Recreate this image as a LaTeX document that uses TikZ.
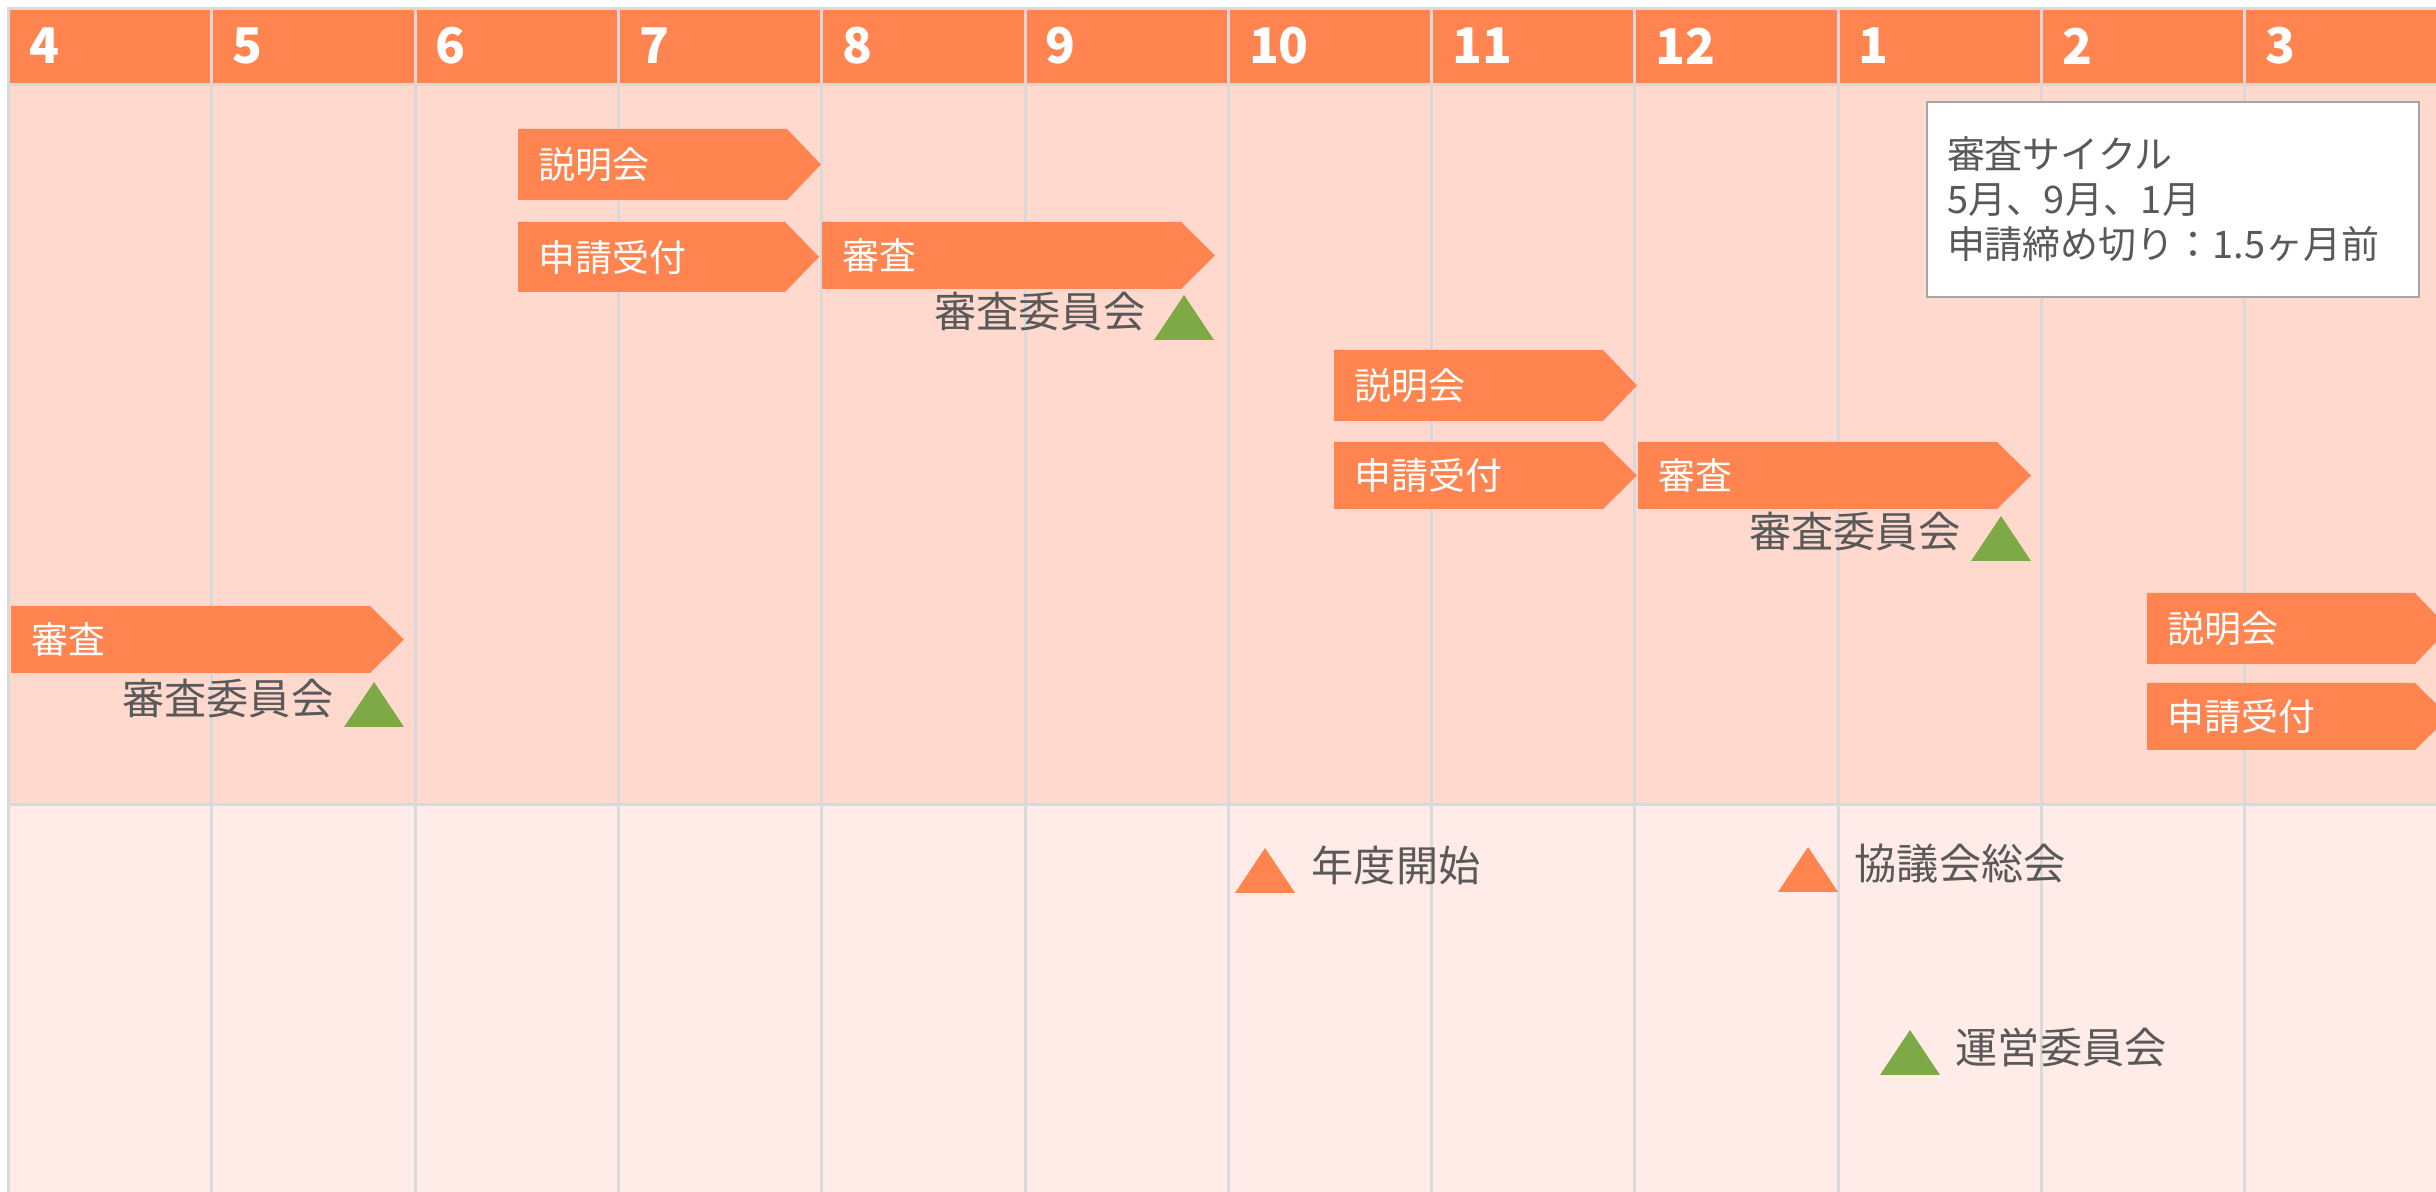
\documentclass[tikz,border=0pt]{standalone}
\usepackage{fontspec}
\setmainfont{Noto Sans CJK JP}
\definecolor{HeadClr}{HTML}{FF8450}
\definecolor{UpperClr}{HTML}{FFD8CE}
\definecolor{LowerClr}{HTML}{FFEBE7}
\definecolor{GridClr}{HTML}{D9D9D9}
\definecolor{MeetClr}{HTML}{7DA946}
\definecolor{TextClr}{HTML}{595959}
\definecolor{BoxClr}{HTML}{A6A6A6}

\begin{document}
\begin{tikzpicture}[x=0.1mm,y=-0.1mm,
  gridline/.style={GridClr,line width=0.3mm},
  month/.style={anchor=west,inner sep=0,text=white,font=\fontsize{14}{16}\selectfont\bfseries},
  barlbl/.style={anchor=west,inner sep=0,text=white,font=\fontsize{10.5}{12}\selectfont},
  evlbl/.style={inner sep=0,text=TextClr,font=\fontsize{12}{14}\selectfont},
  infobox/.style={draw=BoxClr,line width=0.25mm,fill=white,text=TextClr,align=left,
    inner xsep=2mm,text width=45.2mm,minimum height=19.5mm,
    font=\fontsize{10.8}{12.8}\selectfont}]
\useasboundingbox (0,0) rectangle (2436,1192);

\fill[HeadClr] (8.5,8.5) rectangle (2436,85);
\fill[UpperClr] (8.5,85) rectangle (2436,805);
\fill[LowerClr] (8.5,805) rectangle (2436,1192);
\draw[gridline] (8.5,8.5) -- (2436,8.5) (8.5,85) -- (2436,85) (8.5,805) -- (2436,805);
\foreach \m [count=\i from 0] in {4,5,6,7,8,9,10,11,12,1,2,3}{
  \draw[gridline] ({8.5+203.3*\i},7) -- ({8.5+203.3*\i},1192);
  \node[month] (m\m) at ({28.5+203.3*\i},46) {\m};
}

\foreach \xa/\xb/\ya/\yb/\nm/\txt in {
  11/404/606/673/shin0/審査,
  518/821/129/200/setsu1/説明会, 518/819/222/292/uke1/申請受付, 822/1215/222/289/shin1/審査,
  1334/1637/350/421/setsu2/説明会, 1334/1637/442/509/uke2/申請受付, 1638/2031/442/509/shin2/審査,
  2147/2449/593/664/setsu3/説明会, 2147/2449/683/750/uke3/申請受付}{
  \fill[HeadClr] (\xa,\ya) -- ({\xb-34},\ya) -- (\xb,{(\ya+\yb)/2}) -- ({\xb-34},\yb) -- (\xa,\yb) -- cycle;
  \node[barlbl] (\nm) at ({\xa+20},{(\ya+\yb)/2}) {\txt};
}

\foreach \xa/\ya/\clr in {344/682/MeetClr, 1154/295/MeetClr, 1971/516/MeetClr,
  1235/848/HeadClr, 1778/847/HeadClr, 1880/1030/MeetClr}{
  \fill[\clr] (\xa,{\ya+45}) -- ({\xa+30},\ya) -- ({\xa+60},{\ya+45}) -- cycle;
}

\node[evlbl,anchor=east] (iin0) at (334,699) {審査委員会};
\node[evlbl,anchor=east] (iin1) at (1146,312) {審査委員会};
\node[evlbl,anchor=east] (iin2) at (1961,532) {審査委員会};
\node[evlbl,anchor=west] (start) at (1311,865) {年度開始};
\node[evlbl,anchor=west] (soukai) at (1854,864) {協議会総会};
\node[evlbl,anchor=west] (unei) at (1955,1047) {運営委員会};

\node[infobox] (cycle) at (2173,199.5) {審査サイクル\\5月、9月、1月\\申請締め切り：1.5ヶ月前};

\end{tikzpicture}
\end{document}
